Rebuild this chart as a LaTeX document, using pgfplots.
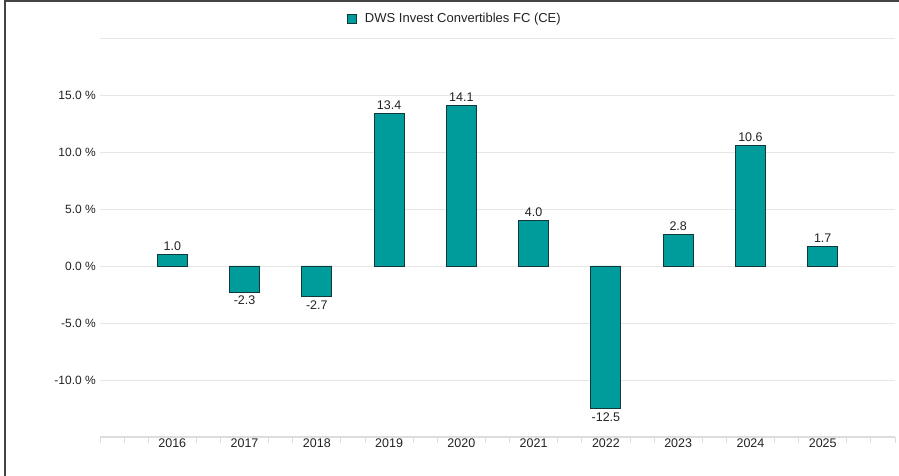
\documentclass[border=0pt]{standalone}
\usepackage{pgfplots}
\pgfplotsset{compat=1.18}
\usepackage{fontspec}
\setmainfont{Liberation Sans}
\definecolor{barteal}{HTML}{009B9B}
\definecolor{baredge}{HTML}{12393A}
\definecolor{gridgray}{HTML}{E6E6E6}
\definecolor{axgray}{HTML}{DDDDDD}
\definecolor{txt}{HTML}{222222}
\definecolor{frame}{HTML}{444444}
\begin{document}
\begin{tikzpicture}[x=1pt,y=1pt]
\path[use as bounding box] (0,0) rectangle (899,476);
\begin{axis}[
  at={(100pt,39pt)}, anchor=south west,
  scale only axis, width=795pt, height=399pt,
  ybar, bar width=30pt,
  xmin=-1, xmax=10, ymin=-15, ymax=20,
  xtick={0,...,9},
  xticklabels={2016,2017,2018,2019,2020,2021,2022,2023,2024,2025},
  extra x ticks={-1,10}, extra x tick labels={},
  extra x tick style={major tick length=6pt, tick style={axgray, line width=1pt}, grid=none},
  minor xtick={-0.66667,-0.33333,0.33333,0.66667,1.33333,1.66667,2.33333,2.66667,3.33333,3.66667,4.33333,4.66667,5.33333,5.66667,6.33333,6.66667,7.33333,7.66667,8.33333,8.66667,9.33333,9.66667},
  minor tick length=6pt,
  major tick length=0pt,
  minor tick style={axgray, line width=1pt},
  x tick style={axgray},
  ytick={-15,-10,-5,0,5,10,15,20},
  yticklabels={{},{-10.0 \%},{-5.0 \%},{0.0 \%},{5.0 \%},{10.0 \%},{15.0 \%},{}},
  ymajorgrids, xmajorgrids=false, grid style={gridgray, line width=0.8pt},
  axis x line*=bottom, axis y line*=left,
  y axis line style={draw=none},
  y tick style={draw=none},
  x axis line style={axgray, line width=2pt, -},
  xticklabel style={font=\fontsize{12.5}{14}\selectfont, text=txt, inner sep=0pt, yshift=-2pt},
  yticklabel style={font=\fontsize{12}{14}\selectfont, text=txt, inner sep=0pt, xshift=-4pt},
  /pgf/number format/assume math mode=true,
  nodes near coords,
  nodes near coords align={vertical},
  nodes near coords style={font=\fontsize{12.5}{14}\selectfont, text=txt,
     /pgf/number format/.cd, fixed, fixed zerofill, precision=1},
  legend style={at={(0.4465,1.048)}, anchor=center, draw=none, fill=none,
     font=\fontsize{13}{15}\selectfont, text=txt, inner sep=0pt,
     cells={anchor=west}, /tikz/every odd column/.append style={column sep=6pt}},
  legend image code/.code={\draw[fill=barteal, draw=baredge, line width=0.8pt] (0pt,-4.5pt) rectangle (9pt,4.5pt);},
  clip=false,
]
\addplot[fill=barteal, draw=baredge, line width=0.9pt] coordinates {
 (0,1.0) (1,-2.3) (2,-2.7) (3,13.4) (4,14.1) (5,4.0) (6,-12.5) (7,2.8) (8,10.6) (9,1.7)};
\addlegendentry{DWS Invest Convertibles FC (CE)}
\end{axis}
\draw[frame, line width=2pt] (4.5,0) -- (4.5,475) -- (899,475);
\end{tikzpicture}
\end{document}
